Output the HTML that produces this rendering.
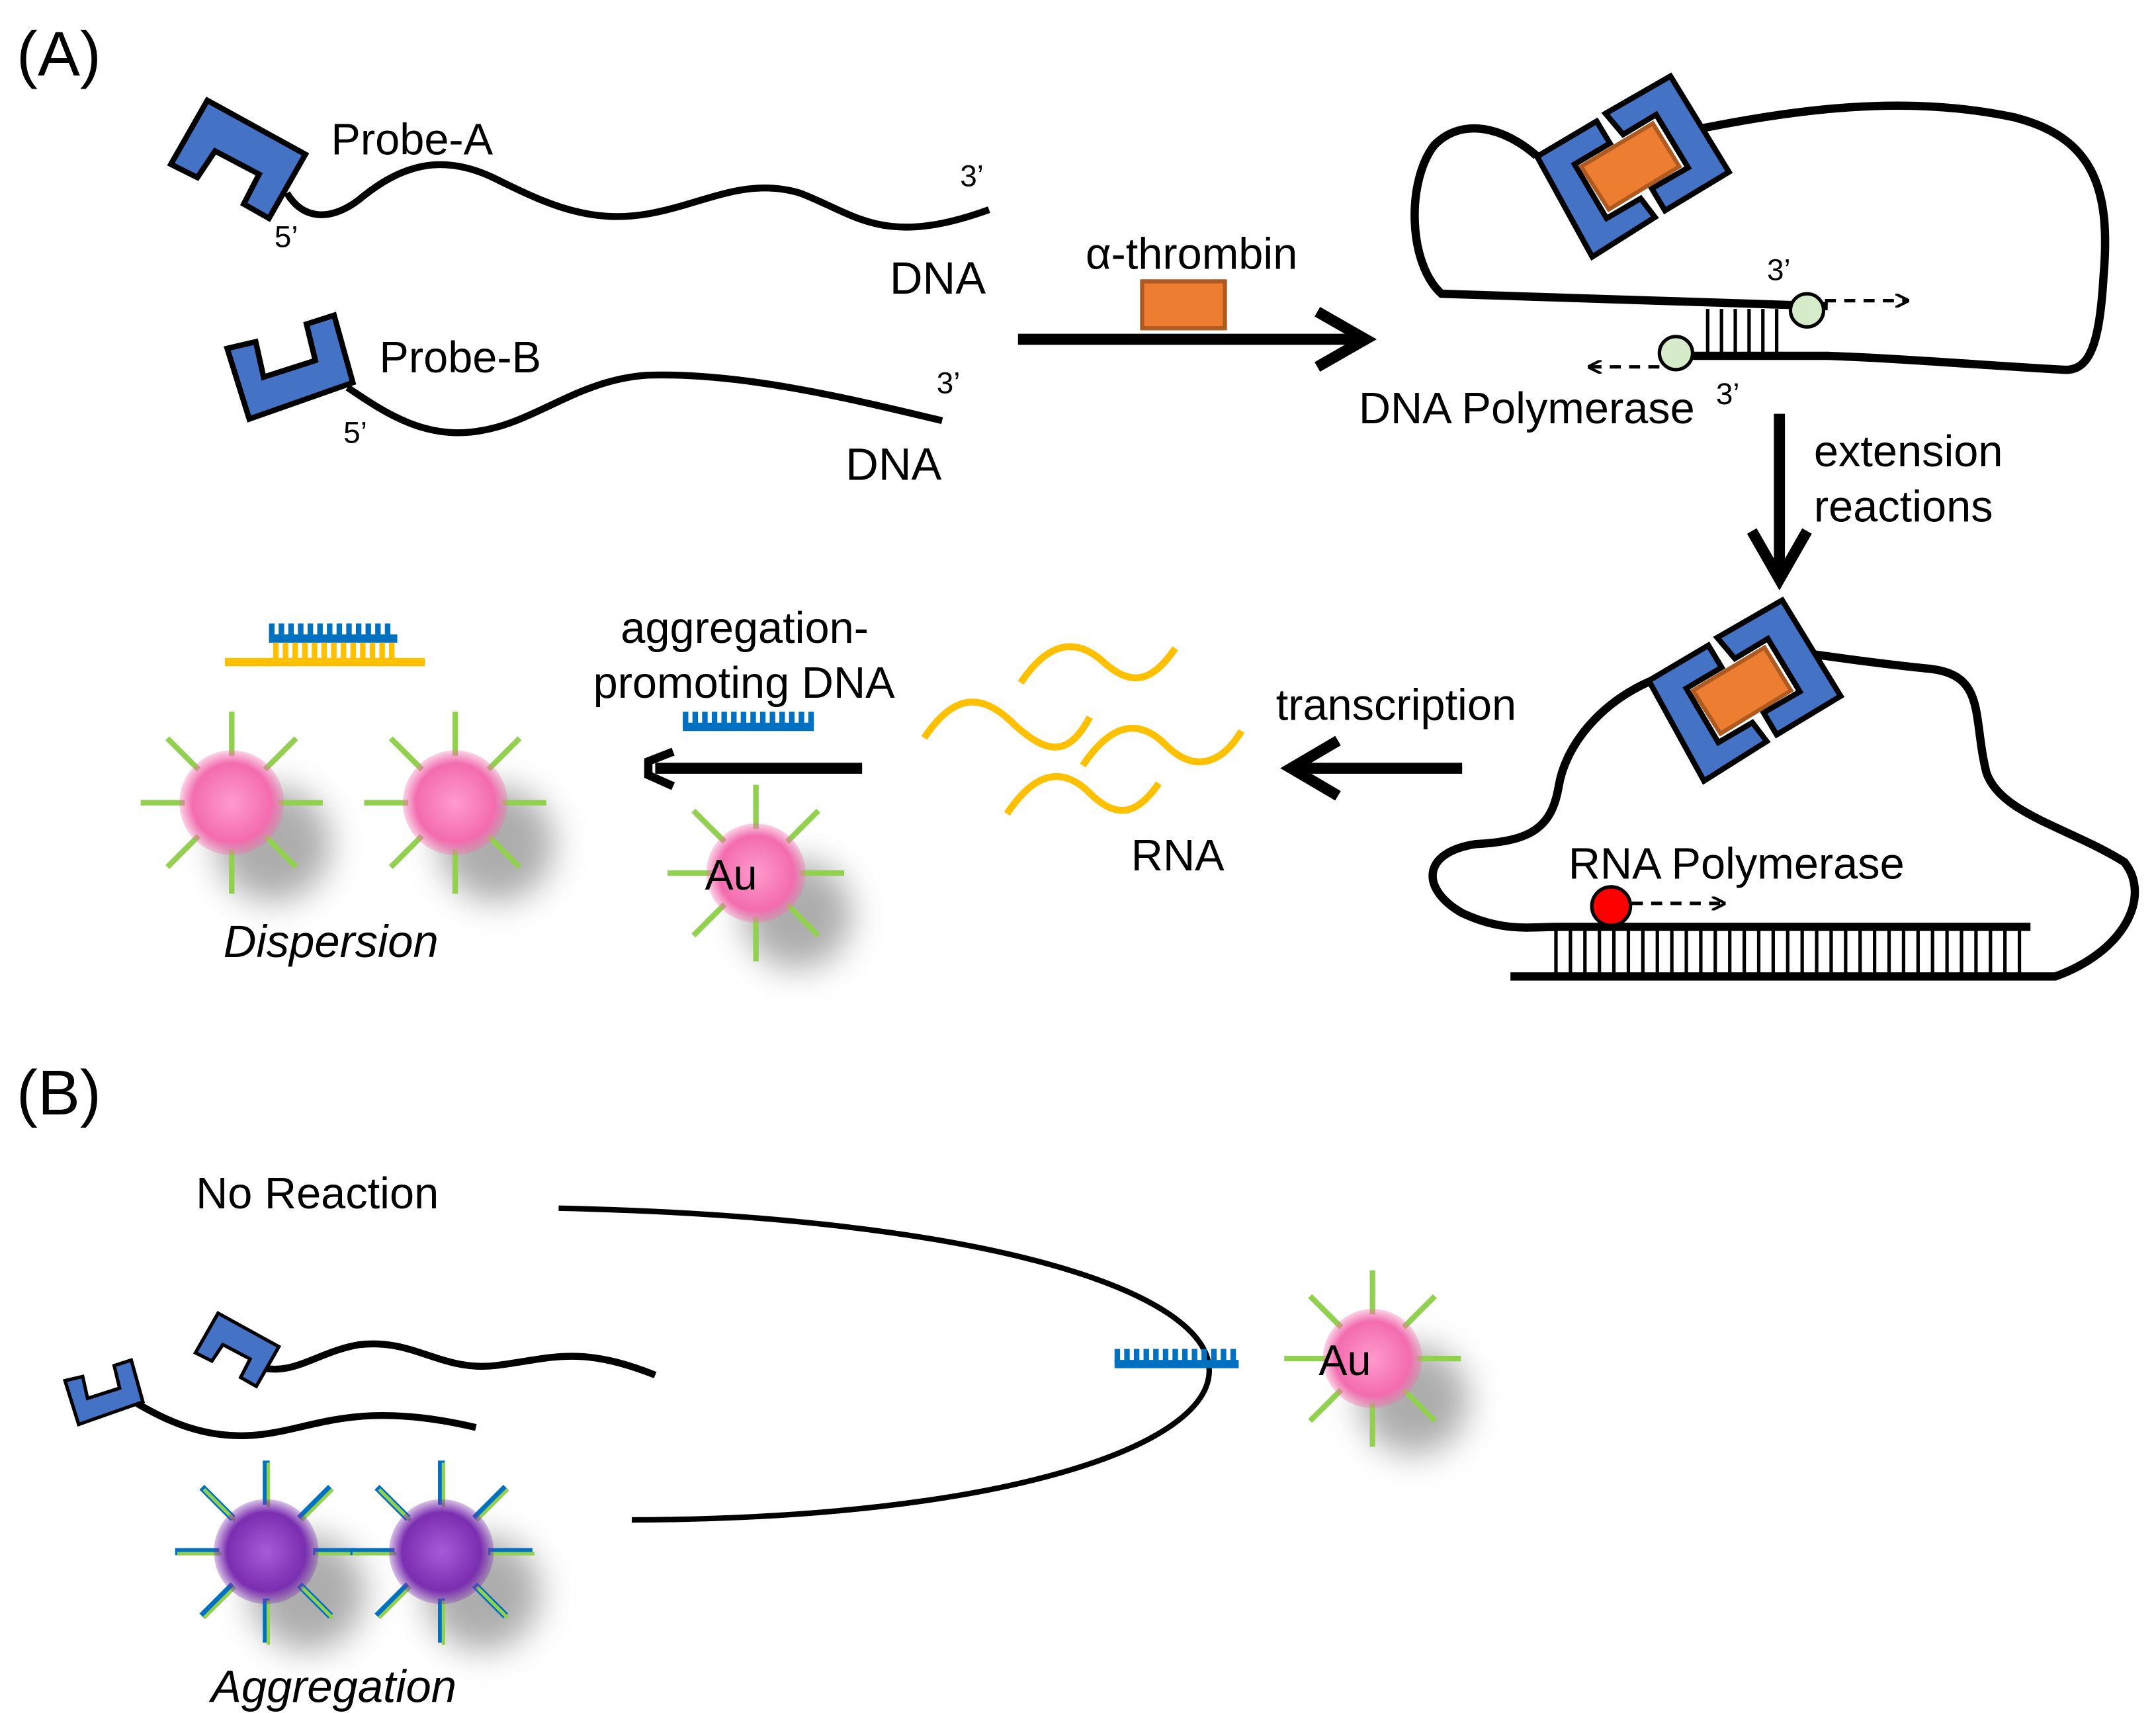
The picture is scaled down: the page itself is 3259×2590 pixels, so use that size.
<!DOCTYPE html>
<html><head><meta charset="utf-8"><style>
html,body{margin:0;padding:0;background:#fff}
svg{display:block}
text{font-family:"Liberation Sans",Arial,sans-serif;fill:#000}
</style></head><body>
<svg id="s" width="3259" height="2590" viewBox="0 0 1563 1242" preserveAspectRatio="none" xmlns="http://www.w3.org/2000/svg">
<defs>
<radialGradient id="pk" cx="50%" cy="50%" r="50%"><stop offset="0" stop-color="#FF9ACD"/><stop offset="0.75" stop-color="#F36CAE"/><stop offset="1" stop-color="#F36CAE" stop-opacity="0.3"/></radialGradient>
<radialGradient id="pu" cx="50%" cy="50%" r="50%"><stop offset="0" stop-color="#A85BD8"/><stop offset="0.75" stop-color="#7A2EB0"/><stop offset="1" stop-color="#7A2EB0" stop-opacity="0.3"/></radialGradient>
<filter id="bl" x="-50%" y="-50%" width="200%" height="200%"><feGaussianBlur stdDeviation="12"/></filter>
<marker id="ah" markerWidth="10" markerHeight="10" refX="9" refY="5" orient="auto" markerUnits="userSpaceOnUse"><path d="M0,0 L10,5 L0,10" fill="none" stroke="#000" stroke-width="2"/></marker>
<g id="cx">
<polygon points="1114.3,113.5 1157.5,87.9 1167.1,103.9 1141.5,119.1 1164.7,158.3 1189.4,143.9 1199.8,157.5 1154.3,186.2" fill="#4472C4" stroke="#000" stroke-width="4"/>
<polygon points="1163.9,82.3 1211,55.2 1253.4,124.7 1207,152.7 1197.5,136.7 1223.8,121.5 1200.6,83.1 1176.7,97.5" fill="#4472C4" stroke="#000" stroke-width="4"/>
<polygon points="1146.3,120.7 1198.2,89.5 1217.4,120.7 1166.3,151.9" fill="#ED7D31" stroke="#AE5A21" stroke-width="3"/>
</g>
<g id="pa"><polygon points="150.3,72.8 221.4,111.9 195,158.3 176.7,147.9 187.8,126.3 155.9,109.5 143.1,128.7 123.9,119.1" fill="#4472C4" stroke="#000" stroke-width="4"/></g>
<g id="pb"><polygon points="164.7,252.6 185.4,247.8 191.1,273.4 228.6,261.4 222.2,235 242.2,228.6 255.8,277.4 180.7,303.8" fill="#4472C4" stroke="#000" stroke-width="4"/></g>
</defs>
<text x="12" y="55" font-size="46">(A)</text>
<text x="12" y="808" font-size="46">(B)</text>

<!-- Probe A -->
<path d="M208,140 C220,160 240,160 260,145 C290,120 320,110 360,130 C400,150 430,162 470,155 C510,148 540,128 580,140 C620,155 640,180 717,152" fill="none" stroke="#000" stroke-width="5"/>
<use href="#pa"/>
<text x="240" y="112" font-size="32">Probe-A</text>
<text x="199" y="179" font-size="22">5’</text>
<text x="696" y="135" font-size="22">3’</text>
<text x="645" y="213" font-size="33">DNA</text>
<!-- Probe B -->
<path d="M252,281 C280,300 310,320 350,312 C390,305 420,275 470,272 C540,270 620,290 683,305" fill="none" stroke="#000" stroke-width="5"/>
<use href="#pb"/>
<text x="275" y="270" font-size="32">Probe-B</text>
<text x="249" y="321" font-size="22">5’</text>
<text x="679" y="285" font-size="22">3’</text>
<text x="613" y="348" font-size="33">DNA</text>
<!-- thrombin arrow -->
<line x1="738" y1="246" x2="990" y2="246" stroke="#000" stroke-width="8"/>
<path d="M955,226 L990,246 L955,266" fill="none" stroke="#000" stroke-width="8"/>
<rect x="828" y="204" width="60" height="34" fill="#ED7D31" stroke="#AE5A21" stroke-width="3"/>
<text x="787" y="195" font-size="32">α-thrombin</text>

<!-- top-right complex -->
<path d="M1325,222 L1045,213 C1020,190 1020,130 1040,105 C1060,85 1090,92 1114,113" fill="none" stroke="#000" stroke-width="6"/>
<path d="M1234,93 C1300,80 1380,68 1460,85 C1520,100 1530,140 1525,200 C1522,250 1515,270 1495,268 C1440,265 1380,260 1325,258 L1205,258" fill="none" stroke="#000" stroke-width="6"/>
<g stroke="#000" stroke-width="2.5">
<line x1="1238" y1="224" x2="1238" y2="258"/><line x1="1248" y1="224" x2="1248" y2="258"/><line x1="1258" y1="224" x2="1258" y2="258"/><line x1="1268" y1="224" x2="1268" y2="258"/><line x1="1278" y1="224" x2="1278" y2="258"/><line x1="1288" y1="224" x2="1288" y2="258"/>
</g>
<use href="#cx"/>
<circle cx="1310" cy="225" r="12" fill="#D6EBC9" stroke="#000" stroke-width="2.5"/>
<circle cx="1215" cy="256" r="12" fill="#D6EBC9" stroke="#000" stroke-width="2.5"/>
<line x1="1323" y1="218" x2="1383" y2="218" stroke="#000" stroke-width="2.5" stroke-dasharray="8,6" marker-end="url(#ah)"/>
<line x1="1203" y1="266" x2="1152" y2="266" stroke="#000" stroke-width="2.5" stroke-dasharray="8,6" marker-end="url(#ah)"/>
<text x="1281" y="203" font-size="22">3’</text>
<text x="1244" y="293" font-size="22">3’</text>
<text x="985" y="307" font-size="32">DNA Polymerase</text>
<!-- down arrow -->
<line x1="1290" y1="300" x2="1290" y2="418" stroke="#000" stroke-width="8"/>
<path d="M1270,385 L1290,420 L1310,385" fill="none" stroke="#000" stroke-width="8"/>
<text x="1315" y="338" font-size="32">extension</text>
<text x="1315" y="378" font-size="32">reactions</text>

<!-- bottom-right -->
<path d="M1095,708 L1490,708 C1540,690 1560,650 1540,625 C1500,600 1450,590 1440,560 C1430,520 1440,490 1400,485 C1370,482 1340,478 1312,474" fill="none" stroke="#000" stroke-width="6"/>
<path d="M1196,494 C1160,510 1135,540 1130,570 C1125,600 1110,610 1070,612 C1030,618 1030,645 1060,662 C1090,676 1110,672 1130,672 L1472,672" fill="none" stroke="#000" stroke-width="6"/>
<g id="lad" stroke="#000" stroke-width="2.5"></g>
<use href="#cx" transform="translate(81,380)"/>
<circle cx="1168" cy="657" r="14" fill="#F00" stroke="#000" stroke-width="2.5"/>
<line x1="1183" y1="655" x2="1250" y2="655" stroke="#000" stroke-width="2.5" stroke-dasharray="8,6" marker-end="url(#ah)"/>
<text x="1137" y="637" font-size="32">RNA Polymerase</text>
<!-- transcription arrow -->
<line x1="1060" y1="557" x2="938" y2="557" stroke="#000" stroke-width="8"/>
<path d="M970,537 L936,557 L970,577" fill="none" stroke="#000" stroke-width="8"/>
<text x="925" y="522" font-size="32">transcription</text>
<!-- RNA waves -->
<g fill="none" stroke="#FFC000" stroke-width="5">
<path d="M740,495 C760,465 780,462 800,480 C820,498 835,495 852,470"/>
<path d="M670,535 C690,505 710,500 735,525 C760,548 775,548 790,520"/>
<path d="M785,555 C805,525 825,520 845,540 C865,560 885,555 900,530"/>
<path d="M730,590 C750,560 770,555 790,575 C810,595 825,590 840,568"/>
</g>
<text x="820" y="631" font-size="32">RNA</text>
<!-- aggregation arrow -->
<line x1="625" y1="557" x2="475" y2="557" stroke="#000" stroke-width="8"/>
<path d="M488,545 L470,552 L470,562 L488,570" fill="none" stroke="#000" stroke-width="6"/>
<text x="450" y="466" font-size="32">aggregation-</text>
<text x="430" y="506" font-size="32">promoting DNA</text>
<!-- dispersion -->
<line x1="163" y1="480" x2="308" y2="480" stroke="#FFC000" stroke-width="6"/>
<text x="162" y="694" font-size="33" font-style="italic">Dispersion</text>
<text x="511" y="645" font-size="31">Au</text>
<text x="956" y="997" font-size="31">Au</text>

<!-- (B) -->
<text x="142" y="876" font-size="32">No Reaction</text>
<path d="M405,876 C1050,890 1000,1100 458,1102" fill="none" stroke="#000" stroke-width="4"/>
<path d="M185,990 C210,1000 230,980 260,975 C300,970 320,995 360,990 C400,985 420,975 475,997" fill="none" stroke="#000" stroke-width="5"/>
<path d="M95,1015 C120,1030 150,1045 190,1040 C230,1035 260,1015 345,1035" fill="none" stroke="#000" stroke-width="5"/>
<use href="#pa" transform="translate(192,1000) scale(0.62) translate(-205,-150)"/>
<use href="#pb" transform="translate(100,1018) scale(0.62) translate(-250,-280)"/>
<text x="153" y="1234" font-size="33" font-style="italic">Aggregation</text>
</svg>
<script>
var NS="http://www.w3.org/2000/svg",s=document.getElementById('s');
function el(t,a,p){var e=document.createElementNS(NS,t);for(var k in a)e.setAttribute(k,a[k]);(p||s).appendChild(e);return e;}
var lad=document.getElementById('lad');
for(var x=1128;x<=1468;x+=10.5)el('line',{x1:x,y1:674,x2:x,y2:706},lad);
function comb(x,y,w){var g=el('g',{fill:'#0070C0'});el('rect',{x:x,y:y+8,width:w,height:6},g);for(var i=x;i<x+w-3;i+=7)el('rect',{x:i,y:y,width:4,height:10},g);}
comb(495,516,95);comb(195,452,93);comb(808,978,90);
for(var i=198;i<285;i+=7)el('rect',{x:i,y:466,width:4,height:12,fill:'#FFC000'});
function part(cx,cy,r,grad,purple){
 el('ellipse',{cx:cx+30,cy:cy+30,rx:r*1.1,ry:r*1.1,fill:'#777',opacity:0.6,filter:'url(#bl)'});
 for(var k=0;k<8;k++){var a=k*Math.PI/4;var x1=cx+Math.cos(a)*(r-4),y1=cy+Math.sin(a)*(r-4),x2=cx+Math.cos(a)*(r+28),y2=cy+Math.sin(a)*(r+28);
  if(purple){el('line',{x1:x1,y1:y1,x2:x2,y2:y2,stroke:'#0070C0','stroke-width':5});el('line',{x1:x1+1.5,y1:y1+1.5,x2:x2+1.5,y2:y2+1.5,stroke:'#92D050','stroke-width':2.5});}
  else el('line',{x1:x1,y1:y1,x2:x2,y2:y2,stroke:'#92D050','stroke-width':4});}
 el('circle',{cx:cx,cy:cy,r:r,fill:'url(#'+grad+')'});
}
part(168,582,38,'pk');part(330,582,38,'pk');part(548,633,36,'pk');part(995,985,36,'pk');
part(193,1125,38,'pu',1);part(320,1125,38,'pu',1);
var ts=s.querySelectorAll('text');ts.forEach(function(t){if(t.textContent=='Au')s.appendChild(t);});
</script>
</body></html>
